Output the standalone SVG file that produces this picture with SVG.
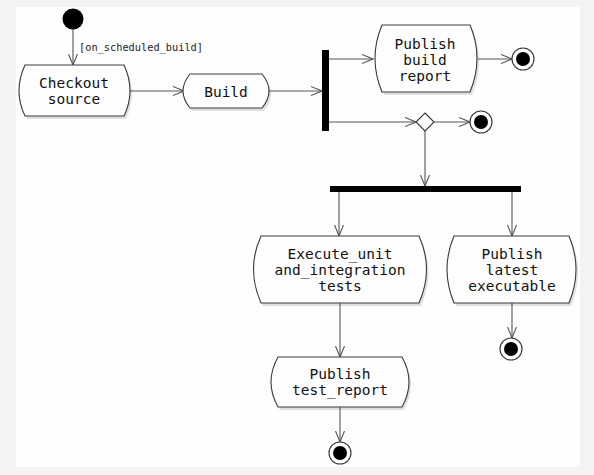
<svg xmlns="http://www.w3.org/2000/svg" width="594" height="475" viewBox="0 0 594 475">
<style>
.bg{fill:#f3f3f4}
.panel{fill:#fefeff}
.act{fill:#fefefe;stroke:#3a3a3a;stroke-width:1.1}
.sh{fill:#000;opacity:0.12}
.t{font-family:"DejaVu Sans Mono","Liberation Mono",monospace;font-size:14.5px;fill:#111;text-anchor:middle}
.g{font-family:"DejaVu Sans Mono","Liberation Mono",monospace;font-size:10.3px;fill:#222}
.c{fill:none;stroke:#555;stroke-width:1.1}
.bar{fill:#000}
.end{fill:#fff;stroke:#333;stroke-width:1.1}
</style>
<defs>
<marker id="arr" markerWidth="12" markerHeight="10" refX="11" refY="5" orient="auto" markerUnits="userSpaceOnUse">
<path d="M0,0.5 L11,5 L0,9.5" fill="none" stroke="#555" stroke-width="1.1"/>
</marker>
</defs>
<rect class="bg" x="0" y="0" width="594" height="475"/>
<rect class="panel" x="16" y="7" width="564" height="460"/>

<g id="connectors">
<path class="c" d="M73,29 L73,65" marker-end="url(#arr)"/>
<text class="g" x="79" y="51">[on_scheduled_build]</text>
<path class="c" d="M130,91 L184,91" marker-end="url(#arr)"/>
<path class="c" d="M268,91 L322,91" marker-end="url(#arr)"/>
<path class="c" d="M329,59 L373,59" marker-end="url(#arr)"/>
<path class="c" d="M478,59 L512,59" marker-end="url(#arr)"/>
<path class="c" d="M329,122 L416,122" marker-end="url(#arr)"/>
<path class="c" d="M434,122 L470,122" marker-end="url(#arr)"/>
<path class="c" d="M425,131 L425,186" marker-end="url(#arr)"/>
<path class="c" d="M339,192 L339,236" marker-end="url(#arr)"/>
<path class="c" d="M512,192 L512,236" marker-end="url(#arr)"/>
<path class="c" d="M512,303 L512,338" marker-end="url(#arr)"/>
<path class="c" d="M340,303 L340,357" marker-end="url(#arr)"/>
<path class="c" d="M340,407 L340,442" marker-end="url(#arr)"/>
</g>

<g id="start">
<circle cx="73" cy="19" r="10.5" fill="#000"/>
</g>

<g id="checkout">
<path class="sh" d="M27,68 L126,68 Q138,94 126,119 L27,119 Q15,94 27,68 Z"/>
<path class="act" d="M25,65 L124,65 Q136,91 124,116 L25,116 Q13,91 25,65 Z"/>
<text class="t" x="74" y="88">Checkout</text>
<text class="t" x="74" y="104">source</text>
</g>

<g id="build">
<path class="sh" d="M192,77 L264,77 Q278,94 264,111 L192,111 Q178,94 192,77 Z"/>
<path class="act" d="M190,74 L262,74 Q276,91 262,108 L190,108 Q176,91 190,74 Z"/>
<text class="t" x="226" y="97">Build</text>
</g>

<g id="fork1">
<rect class="bar" x="322" y="50" width="7" height="81"/>
</g>

<g id="publish_build_report">
<path class="sh" d="M384,28 L472,28 Q486,61 472,95 L384,95 Q370,61 384,28 Z"/>
<path class="act" d="M382,25 L470,25 Q484,58 470,92 L382,92 Q368,58 382,25 Z"/>
<text class="t" x="425" y="49">Publish</text>
<text class="t" x="425" y="65">build</text>
<text class="t" x="425" y="81">report</text>
</g>

<g id="end1">
<circle class="end" cx="523" cy="59" r="11"/>
<circle cx="523" cy="59" r="7" fill="#000"/>
</g>

<g id="merge">
<path d="M425,113 L434,122 L425,131 L416,122 Z" fill="#fff" stroke="#333" stroke-width="1.1"/>
</g>

<g id="end2">
<circle class="end" cx="481" cy="122" r="11"/>
<circle cx="481" cy="122" r="7" fill="#000"/>
</g>

<g id="fork2">
<rect class="bar" x="330" y="186" width="191" height="6"/>
</g>

<g id="execute_tests">
<path class="sh" d="M263,239 L421,239 Q436,272 421,306 L263,306 Q248,272 263,239 Z"/>
<path class="act" d="M261,236 L419,236 Q434,269 419,303 L261,303 Q246,269 261,236 Z"/>
<text class="t" x="340" y="259">Execute_unit</text>
<text class="t" x="340" y="275">and_integration</text>
<text class="t" x="340" y="291">tests</text>
</g>

<g id="publish_latest">
<path class="sh" d="M456,239 L571,239 Q585,272 571,306 L456,306 Q442,272 456,239 Z"/>
<path class="act" d="M454,236 L569,236 Q583,269 569,303 L454,303 Q440,269 454,236 Z"/>
<text class="t" x="512" y="259">Publish</text>
<text class="t" x="512" y="275">latest</text>
<text class="t" x="512" y="291">executable</text>
</g>

<g id="end3">
<circle class="end" cx="511" cy="349" r="11"/>
<circle cx="511" cy="349" r="7" fill="#000"/>
</g>

<g id="publish_test_report">
<path class="sh" d="M280,360 L404,360 Q418,385 404,410 L280,410 Q266,385 280,360 Z"/>
<path class="act" d="M278,357 L402,357 Q416,382 402,407 L278,407 Q264,382 278,357 Z"/>
<text class="t" x="340" y="379">Publish</text>
<text class="t" x="340" y="395">test_report</text>
</g>

<g id="end4">
<circle class="end" cx="340" cy="453" r="11"/>
<circle cx="340" cy="453" r="7" fill="#000"/>
</g>
</svg>
